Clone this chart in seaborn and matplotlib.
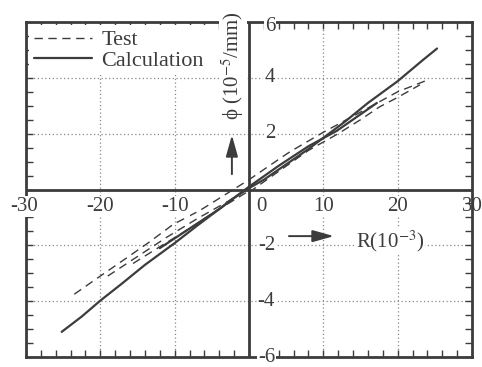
import numpy as np
import pandas as pd
import matplotlib
matplotlib.use("Agg")
import matplotlib.pyplot as plt
import seaborn as sns
from matplotlib.lines import Line2D

# ---------------- data ----------------
test_1_x = [-23.5, -20, -17, -13.5, -10.2, -6.6, -3, 0, 3, 5.5, 10, 14.5, 20, 24]
test_1_y = [-3.75, -3.1, -2.55, -1.9, -1.25, -0.75, -0.15, 0.35, 0.9, 1.35, 2.05, 2.7, 3.5, 3.92]
test_2_x = [0, 4, 8, 12, 15, 17.5, 20, 23]
test_2_y = [-0.1, 0.65, 1.4, 2.0, 2.5, 2.95, 3.3, 3.75]
test_3_x = [-19, -15, -11, -7, -3, 0]
test_3_y = [-3.1, -2.4, -1.7, -1.05, -0.45, 0.05]
test_4_x = [-15.6, -12, -8, -4, 0]
test_4_y = [-2.65, -2.05, -1.4, -0.7, -0.05]

calc_1_x = [-25.2, -22.5, -20, -17, -14, -10, -7, -4, -2, 0, 2, 5, 8, 10, 13, 16, 20, 23.4, 25.3]
calc_1_y = [-5.1, -4.55, -3.98, -3.35, -2.7, -1.92, -1.3, -0.7, -0.3, 0.05, 0.35, 0.9, 1.45, 1.85, 2.45, 3.1, 3.88, 4.64, 5.05]
calc_2_x = [-12, -8, -4, 0, 4, 8, 11.8, 14.5, 17.2]
calc_2_y = [-2.1, -1.4, -0.7, 0.1, 0.85, 1.55, 2.1, 2.6, 3.1]

x_tick_values = [-30, -20, -10, 0, 10, 20, 30]
x_tick_labels = ["-30", "-20", "-10", "0", "10", "20", "30"]
y_tick_values = [6, 4, 2, -2, -4, -6]
y_tick_labels = ["6", "4", "2", "-2", "-4", "-6"]
legend_labels = ["Test", "Calculation"]

rows = []
for name, series, xs, ys in [
    ("t1", "Test", test_1_x, test_1_y),
    ("t2", "Test", test_2_x, test_2_y),
    ("t3", "Test", test_3_x, test_3_y),
    ("t4", "Test", test_4_x, test_4_y),
    ("c1", "Calculation", calc_1_x, calc_1_y),
    ("c2", "Calculation", calc_2_x, calc_2_y),
]:
    for xv, yv in zip(xs, ys):
        rows.append({"R": xv, "phi": yv, "Series": series, "seg": name})
df = pd.DataFrame(rows)

# ---------------- style ----------------
sns.set_style("white")
plt.rcParams["font.family"] = ["Liberation Serif", "DejaVu Serif"]
plt.rcParams["mathtext.fontset"] = "stix"

ink = "#3c3c3c"
grid_c = "#8a8a8a"

fig = plt.figure(figsize=(4.82, 3.67), dpi=100)
ax = fig.add_axes([26 / 482, 1 - 357 / 367, 446 / 482, 335 / 367])

sns.lineplot(data=df[df.Series == "Test"], x="R", y="phi", units="seg",
             estimator=None, sort=False, color=ink, lw=1.0,
             linestyle=(0, (6, 4)), legend=False, ax=ax)
sns.lineplot(data=df[df.Series == "Calculation"], x="R", y="phi", units="seg",
             estimator=None, sort=False, color=ink, lw=1.6,
             legend=False, ax=ax)

ax.set_xlim(-30, 30)
ax.set_ylim(-6, 6)
ax.set_xlabel("")
ax.set_ylabel("")

ax.set_xticks(x_tick_values)
ax.set_xticks(np.arange(-30, 31, 2), minor=True)
ax.set_yticks([-6, -4, -2, 0, 2, 4, 6])
ax.set_yticks(np.arange(-6, 6.01, 0.5), minor=True)
ax.set_xticklabels([])
ax.set_yticklabels([])
ax.tick_params(which="both", direction="in", top=True, bottom=True,
               left=True, right=True, length=5, width=1.0, color=ink)
ax.grid(True, which="major", linestyle=(0, (1, 2)), color=grid_c, lw=0.9)

for s in ax.spines.values():
    s.set_linewidth(2.0)
    s.set_color(ink)

ax.axhline(0, color=ink, lw=2.0, zorder=2.6)
ax.axvline(0, color=ink, lw=2.0, zorder=2.6)

bb = dict(boxstyle="square,pad=0.05", fc="white", ec="none")
tick_fs = 15
for v, lab in zip(x_tick_values, x_tick_labels):
    xpos = 1.7 if v == 0 else v
    xpos = -30.3 if v == -30 else xpos
    ax.text(xpos, -0.6, lab, ha="center", va="center", fontsize=tick_fs,
            color=ink, bbox=None if v == 30 else bb, zorder=5, clip_on=False)
for v, lab in zip(y_tick_values, y_tick_labels):
    ypos = 5.85 if v == 6 else v
    ax.text(3.5, ypos, lab, ha="right", va="center", fontsize=tick_fs,
            color=ink, bbox=bb, zorder=5, clip_on=False)

# axis name labels with arrows
ax.text(-2.15, 4.45, "ϕ (10$^{-5}$/mm)", rotation=90, ha="center", va="center",
        fontsize=15, color=ink, bbox=bb, zorder=5)
ax.annotate("", xy=(-2.3, 2.05), xytext=(-2.3, 0.45),
            arrowprops=dict(arrowstyle="-|>,head_length=1.0,head_width=0.28",
                            color=ink, lw=1.4, mutation_scale=13))
ax.text(14.4, -1.85, "R(10$^{-3}$)", ha="left", va="center",
        fontsize=15, color=ink, bbox=bb, zorder=5)
ax.annotate("", xy=(11.8, -1.67), xytext=(5.0, -1.67),
            arrowprops=dict(arrowstyle="-|>,head_length=1.0,head_width=0.28",
                            color=ink, lw=1.4, mutation_scale=13))

handles = [Line2D([], [], color=ink, lw=1.0, linestyle=(0, (6, 4))),
           Line2D([], [], color=ink, lw=1.6)]
leg = ax.legend(handles, legend_labels, loc="upper left", fontsize=16,
                frameon=True, facecolor="white", edgecolor="none", framealpha=1,
                handlelength=2.6, handletextpad=0.45, labelspacing=0.0,
                borderaxespad=0.15, borderpad=0.2)
for t in leg.get_texts():
    t.set_color(ink)
leg.set_zorder(6)

fig.savefig("out.png", dpi=100, facecolor="white")
